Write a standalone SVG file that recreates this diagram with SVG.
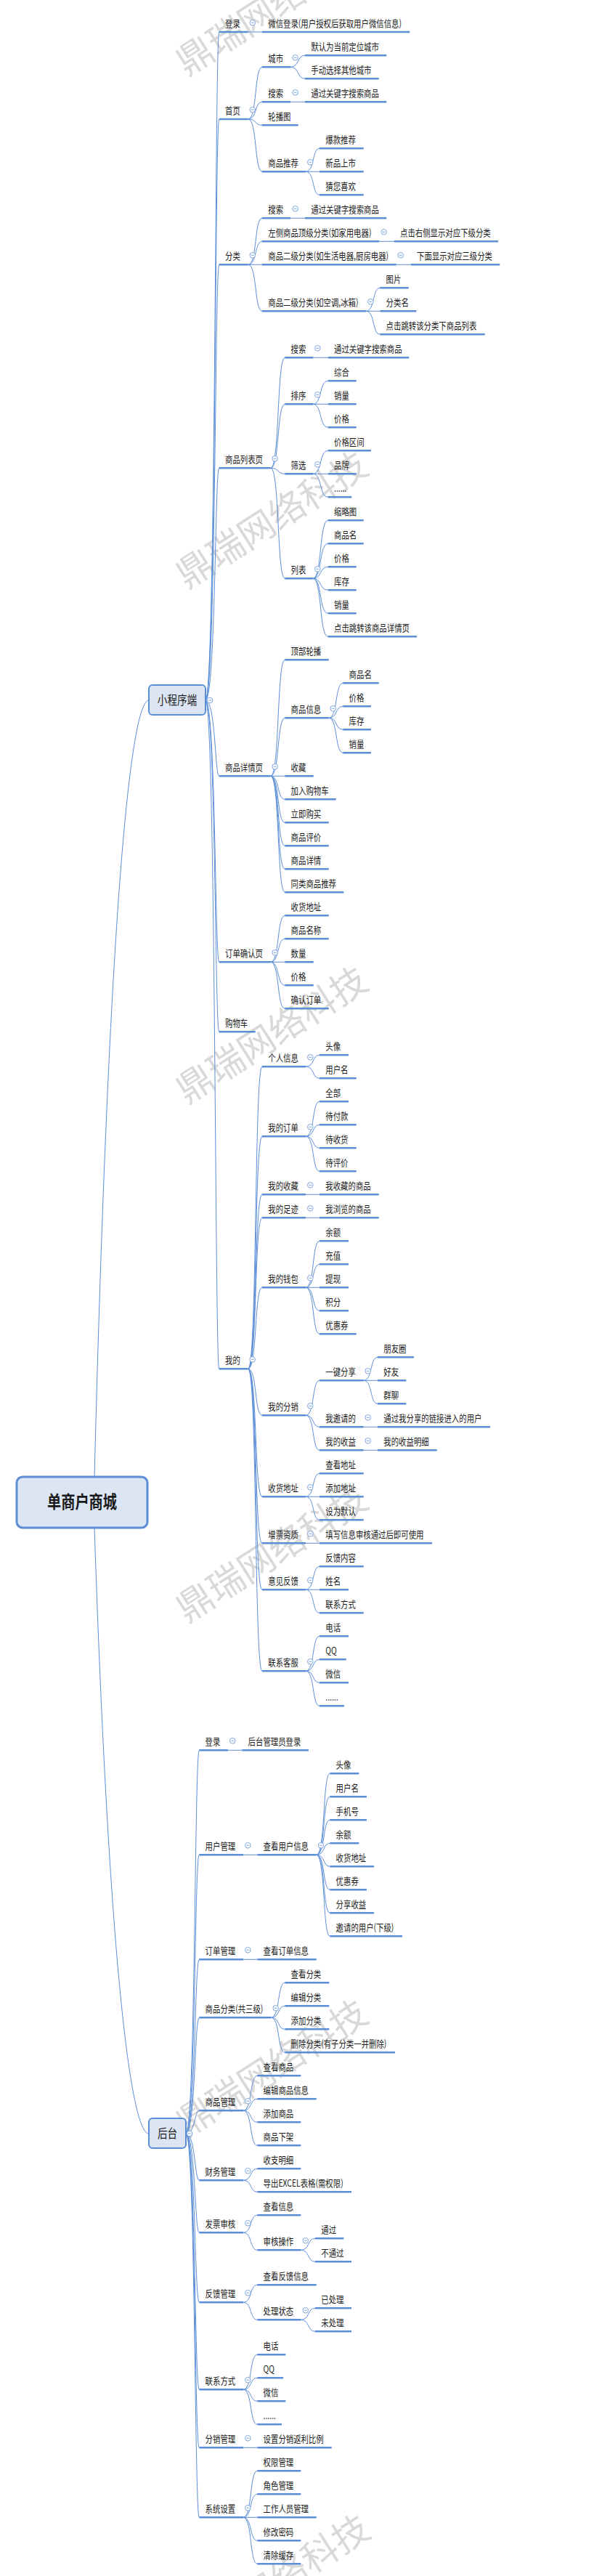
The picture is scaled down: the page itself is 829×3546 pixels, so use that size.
<svg xmlns="http://www.w3.org/2000/svg" xmlns:xlink="http://www.w3.org/1999/xlink" width="829" height="3546" viewBox="0 0 829 3546">
<style>
.u{fill:none;stroke:#5b8ed7;stroke-width:2.6}
.k path{fill:none;stroke:#5b8ed7;stroke-width:1}
.t{font-family:"Noto Sans CJK SC","Noto Sans",sans-serif;font-size:13px;fill:#1a1a1a;transform:scale(.8,1);transform-origin:0 0}
.bx{fill:#dbe5f3;stroke:#5b8ed7;stroke-width:2}
.bt{font-family:"Noto Sans CJK SC","Noto Sans",sans-serif;font-size:17px;fill:#1a1a1a;text-anchor:middle;transform:scale(.8,1);transform-origin:0 0}
.rt{font-family:"Noto Sans CJK SC","Noto Sans",sans-serif;font-size:24px;font-weight:bold;fill:#1a1a1a;text-anchor:middle;transform:scale(.8,1);transform-origin:0 0}
.w{font-family:"Noto Sans CJK SC",sans-serif;font-size:50px;fill:#d9d9d9;text-anchor:middle;dominant-baseline:central}
</style>
<defs>
<g id="cb"><circle r="3.8" fill="#fff" stroke="#7ea5dd" stroke-width="1"/><path d="M-2 0H2" stroke="#7ea5dd" stroke-width="1"/></g>
</defs>
<rect width="829" height="3546" fill="#fff"/>
<g id="watermarks">
<text class="w" transform="translate(372 6) rotate(-32.5)">鼎瑞网络科技</text>
<text class="w" transform="translate(372 712) rotate(-32.5)">鼎瑞网络科技</text>
<text class="w" transform="translate(372 1421) rotate(-32.5)">鼎瑞网络科技</text>
<text class="w" transform="translate(372 2135) rotate(-32.5)">鼎瑞网络科技</text>
<text class="w" transform="translate(372 2843) rotate(-32.5)">鼎瑞网络科技</text>
<text class="w" transform="translate(375 3552) rotate(-32.5)">鼎瑞网络科技</text>
</g>
<g id="connectors" class="k">
<path d="M130 2033C150 1250 180 964 205 964M130 2103C150 2700 180 2937 205 2937"/>
<path d="M283 964C297 964 296 44 301.7 44M283 964C297 964 296 164 301.7 164M283 964C297 964 296 364.3 301.7 364.3M283 964C297 964 296 644.3 301.7 644.3M283 964C297 964 296 1068.3 301.7 1068.3M283 964C297 964 296 1324.3 301.7 1324.3M283 964C297 964 296 1420.3 301.7 1420.3M283 964C297 964 296 1884.3 301.7 1884.3"/>
<path d="M341.7 44H361"/>
<path d="M341.7 164C354.2 164 350.2 92.3 361 92.3M341.7 164C354.2 164 350.2 140.3 361 140.3M341.7 164C354.2 164 350.2 172.3 361 172.3M341.7 164C354.2 164 350.2 236.3 361 236.3"/>
<path d="M400 92.3C412.5 92.3 408.5 76.3 420 76.3M400 92.3C412.5 92.3 408.5 108.3 420 108.3M400 140.3H420"/>
<path d="M421 236.3C433.5 236.3 429.5 204.3 440 204.3M421 236.3H440M421 236.3C433.5 236.3 429.5 268.3 440 268.3"/>
<path d="M341.7 364.3C354.2 364.3 350.2 300.3 361 300.3M341.7 364.3C354.2 364.3 350.2 332.3 361 332.3M341.7 364.3H361M341.7 364.3C354.2 364.3 350.2 428.3 361 428.3"/>
<path d="M400 300.3H420M522.3 332.3H542.7M545.7 364.3H565.7"/>
<path d="M504 428.3C516.5 428.3 512.5 396.3 523.3 396.3M504 428.3H523.3M504 428.3C516.5 428.3 512.5 460.3 523.3 460.3"/>
<path d="M372.7 644.3C385.2 644.3 381.2 492.3 392.3 492.3M372.7 644.3C385.2 644.3 381.2 556.3 392.3 556.3M372.7 644.3C385.2 644.3 381.2 652.3 392.3 652.3M372.7 644.3C385.2 644.3 381.2 796.3 392.3 796.3"/>
<path d="M431 492.3H451.7"/>
<path d="M431 556.3C443.5 556.3 439.5 524.3 451.7 524.3M431 556.3H451.7M431 556.3C443.5 556.3 439.5 588.3 451.7 588.3"/>
<path d="M431 652.3C443.5 652.3 439.5 620.3 451.7 620.3M431 652.3H451.7M431 652.3C443.5 652.3 439.5 684.3 451.7 684.3"/>
<path d="M431 796.3C443.5 796.3 439.5 716.3 451.7 716.3M431 796.3C443.5 796.3 439.5 748.3 451.7 748.3M431 796.3C443.5 796.3 439.5 780.3 451.7 780.3M431 796.3C443.5 796.3 439.5 812.3 451.7 812.3M431 796.3C443.5 796.3 439.5 844.3 451.7 844.3M431 796.3C443.5 796.3 439.5 876.3 451.7 876.3"/>
<path d="M372.7 1068.3C385.2 1068.3 381.2 908.3 392.3 908.3M372.7 1068.3C385.2 1068.3 381.2 988.3 392.3 988.3M372.7 1068.3H392.3M372.7 1068.3C385.2 1068.3 381.2 1100.3 392.3 1100.3M372.7 1068.3C385.2 1068.3 381.2 1132.3 392.3 1132.3M372.7 1068.3C385.2 1068.3 381.2 1164.3 392.3 1164.3M372.7 1068.3C385.2 1068.3 381.2 1196.3 392.3 1196.3M372.7 1068.3C385.2 1068.3 381.2 1228.3 392.3 1228.3"/>
<path d="M452.7 988.3C465.2 988.3 461.2 940.3 472.3 940.3M452.7 988.3C465.2 988.3 461.2 972.3 472.3 972.3M452.7 988.3C465.2 988.3 461.2 1004.3 472.3 1004.3M452.7 988.3C465.2 988.3 461.2 1036.3 472.3 1036.3"/>
<path d="M372.7 1324.3C385.2 1324.3 381.2 1260.3 392.3 1260.3M372.7 1324.3C385.2 1324.3 381.2 1292.3 392.3 1292.3M372.7 1324.3H392.3M372.7 1324.3C385.2 1324.3 381.2 1356.3 392.3 1356.3M372.7 1324.3C385.2 1324.3 381.2 1388.3 392.3 1388.3"/>
<path d="M341.7 1884.3C354.2 1884.3 350.2 1468.3 361 1468.3M341.7 1884.3C354.2 1884.3 350.2 1564.3 361 1564.3M341.7 1884.3C354.2 1884.3 350.2 1644.3 361 1644.3M341.7 1884.3C354.2 1884.3 350.2 1676.3 361 1676.3M341.7 1884.3C354.2 1884.3 350.2 1772.3 361 1772.3M341.7 1884.3C354.2 1884.3 350.2 1948.3 361 1948.3M341.7 1884.3C354.2 1884.3 350.2 2060.3 361 2060.3M341.7 1884.3C354.2 1884.3 350.2 2124.3 361 2124.3M341.7 1884.3C354.2 1884.3 350.2 2188.3 361 2188.3M341.7 1884.3C354.2 1884.3 350.2 2300.3 361 2300.3"/>
<path d="M421 1468.3C433.5 1468.3 429.5 1452.3 440 1452.3M421 1468.3C433.5 1468.3 429.5 1484.3 440 1484.3"/>
<path d="M421 1564.3C433.5 1564.3 429.5 1516.3 440 1516.3M421 1564.3C433.5 1564.3 429.5 1548.3 440 1548.3M421 1564.3C433.5 1564.3 429.5 1580.3 440 1580.3M421 1564.3C433.5 1564.3 429.5 1612.3 440 1612.3"/>
<path d="M421 1644.3H440M421 1676.3H440"/>
<path d="M421 1772.3C433.5 1772.3 429.5 1708.3 440 1708.3M421 1772.3C433.5 1772.3 429.5 1740.3 440 1740.3M421 1772.3H440M421 1772.3C433.5 1772.3 429.5 1804.3 440 1804.3M421 1772.3C433.5 1772.3 429.5 1836.3 440 1836.3"/>
<path d="M421 1948.3C433.5 1948.3 429.5 1900.3 440 1900.3M421 1948.3C433.5 1948.3 429.5 1964.3 440 1964.3M421 1948.3C433.5 1948.3 429.5 1996.3 440 1996.3"/>
<path d="M500.7 1900.3C513.2 1900.3 509.2 1868.3 520 1868.3M500.7 1900.3H520M500.7 1900.3C513.2 1900.3 509.2 1932.3 520 1932.3M500.7 1964.3H520M500.7 1996.3H520"/>
<path d="M421 2060.3C433.5 2060.3 429.5 2028.3 440 2028.3M421 2060.3H440M421 2060.3C433.5 2060.3 429.5 2092.3 440 2092.3M421 2124.3H440"/>
<path d="M421 2188.3C433.5 2188.3 429.5 2156.3 440 2156.3M421 2188.3H440M421 2188.3C433.5 2188.3 429.5 2220.3 440 2220.3"/>
<path d="M421 2300.3C433.5 2300.3 429.5 2252.3 440 2252.3M421 2300.3C433.5 2300.3 429.5 2284.3 440 2284.3M421 2300.3C433.5 2300.3 429.5 2316.3 440 2316.3M421 2300.3C433.5 2300.3 429.5 2348.3 440 2348.3"/>
<path d="M256 2937C269 2937 268 2409.3 274.3 2409.3M256 2937C269 2937 268 2553.3 274.3 2553.3M256 2937C269 2937 268 2697.3 274.3 2697.3M256 2937C269 2937 268 2777.3 274.3 2777.3M256 2937C269 2937 268 2905.3 274.3 2905.3M256 2937C269 2937 268 3001.3 274.3 3001.3M256 2937C269 2937 268 3073.3 274.3 3073.3M256 2937C269 2937 268 3169.3 274.3 3169.3M256 2937C269 2937 268 3289.3 274.3 3289.3M256 2937C269 2937 268 3369.3 274.3 3369.3M256 2937C269 2937 268 3465.3 274.3 3465.3"/>
<path d="M314 2409.3H333.3M335 2553.3H354.3M335 2697.3H354.3M335 3369.3H354.3"/>
<path d="M435.7 2553.3C448.2 2553.3 444.2 2441.3 454.3 2441.3M435.7 2553.3C448.2 2553.3 444.2 2473.3 454.3 2473.3M435.7 2553.3C448.2 2553.3 444.2 2505.3 454.3 2505.3M435.7 2553.3C448.2 2553.3 444.2 2537.3 454.3 2537.3M435.7 2553.3C448.2 2553.3 444.2 2569.3 454.3 2569.3M435.7 2553.3C448.2 2553.3 444.2 2601.3 454.3 2601.3M435.7 2553.3C448.2 2553.3 444.2 2633.3 454.3 2633.3M435.7 2553.3C448.2 2553.3 444.2 2665.3 454.3 2665.3"/>
<path d="M373.3 2777.3C385.8 2777.3 381.8 2729.3 392.3 2729.3M373.3 2777.3C385.8 2777.3 381.8 2761.3 392.3 2761.3M373.3 2777.3C385.8 2777.3 381.8 2793.3 392.3 2793.3M373.3 2777.3C385.8 2777.3 381.8 2825.3 392.3 2825.3"/>
<path d="M335 2905.3C347.5 2905.3 343.5 2857.3 354.3 2857.3M335 2905.3C347.5 2905.3 343.5 2889.3 354.3 2889.3M335 2905.3C347.5 2905.3 343.5 2921.3 354.3 2921.3M335 2905.3C347.5 2905.3 343.5 2953.3 354.3 2953.3"/>
<path d="M335 3001.3C347.5 3001.3 343.5 2985.3 354.3 2985.3M335 3001.3C347.5 3001.3 343.5 3017.3 354.3 3017.3"/>
<path d="M335 3073.3C347.5 3073.3 343.5 3049.3 354.3 3049.3M335 3073.3C347.5 3073.3 343.5 3097.3 354.3 3097.3M414.3 3097.3C426.8 3097.3 422.8 3081.3 434 3081.3M414.3 3097.3C426.8 3097.3 422.8 3113.3 434 3113.3"/>
<path d="M335 3169.3C347.5 3169.3 343.5 3145.3 354.3 3145.3M335 3169.3C347.5 3169.3 343.5 3193.3 354.3 3193.3M414.3 3193.3C426.8 3193.3 422.8 3177.3 434 3177.3M414.3 3193.3C426.8 3193.3 422.8 3209.3 434 3209.3"/>
<path d="M335 3289.3C347.5 3289.3 343.5 3241.3 354.3 3241.3M335 3289.3C347.5 3289.3 343.5 3273.3 354.3 3273.3M335 3289.3C347.5 3289.3 343.5 3305.3 354.3 3305.3M335 3289.3C347.5 3289.3 343.5 3337.3 354.3 3337.3"/>
<path d="M335 3465.3C347.5 3465.3 343.5 3401.3 354.3 3401.3M335 3465.3C347.5 3465.3 343.5 3433.3 354.3 3433.3M335 3465.3H354.3M335 3465.3C347.5 3465.3 343.5 3497.3 354.3 3497.3M335 3465.3C347.5 3465.3 343.5 3529.3 354.3 3529.3"/>
</g>
<g id="root"><rect x="23" y="2033" width="180" height="70" rx="8" fill="#dbe5f3" stroke="#5b8ed7" stroke-width="3"/><text class="rt" x="141.25" y="2076">单商户商城</text></g>
<g id="mini"><rect class="bx" x="205" y="943" width="78" height="41" rx="5"/><text class="bt" x="305" y="970">小程序端</text><use href="#cb" x="289" y="964"/></g>
<g id="admin"><rect class="bx" x="205" y="2916" width="51" height="41" rx="5"/><text class="bt" x="288.1" y="2943">后台</text><use href="#cb" x="261" y="2937"/></g>

<g id="a1"><path class="u" d="M301.7 44H341.7"/><text class="t" x="387.5" y="37">登录</text><use href="#cb" x="347.7" y="31.3"/></g>
<g id="a1-1"><path class="u" d="M361 44H564.3"/><text class="t" x="461.6" y="37">微信登录(用户授权后获取用户微信信息)</text></g>
<g id="a2"><path class="u" d="M301.7 164H341.7"/><text class="t" x="387.5" y="157">首页</text><use href="#cb" x="347.7" y="151"/></g>
<g id="a2-1"><path class="u" d="M361 92.3H400"/><text class="t" x="461.6" y="85.3">城市</text><use href="#cb" x="406.7" y="79.3"/></g>
<g id="a2-1-1"><path class="u" d="M420 76.3H532.3"/><text class="t" x="535.4" y="69.3">默认为当前定位城市</text></g>
<g id="a2-1-2"><path class="u" d="M420 108.3H521.7"/><text class="t" x="535.4" y="101.3">手动选择其他城市</text></g>
<g id="a2-2"><path class="u" d="M361 140.3H400"/><text class="t" x="461.6" y="133.3">搜索</text><use href="#cb" x="406.7" y="127.3"/></g>
<g id="a2-2-1"><path class="u" d="M420 140.3H532.3"/><text class="t" x="535.4" y="133.3">通过关键字搜索商品</text></g>
<g id="a2-3"><path class="u" d="M361 172.3H410.7"/><text class="t" x="461.6" y="165.3">轮播图</text></g>
<g id="a2-4"><path class="u" d="M361 236.3H421"/><text class="t" x="461.6" y="229.3">商品推荐</text><use href="#cb" x="427.3" y="223.3"/></g>
<g id="a2-4-1"><path class="u" d="M440 204.3H500.7"/><text class="t" x="560.4" y="197.3">爆款推荐</text></g>
<g id="a2-4-2"><path class="u" d="M440 236.3H500.7"/><text class="t" x="560.4" y="229.3">新品上市</text></g>
<g id="a2-4-3"><path class="u" d="M440 268.3H500.7"/><text class="t" x="560.4" y="261.3">猜您喜欢</text></g>

<g id="a3"><path class="u" d="M301.7 364.3H341.7"/><text class="t" x="387.5" y="357.3">分类</text><use href="#cb" x="347.7" y="351.3"/></g>
<g id="a3-1"><path class="u" d="M361 300.3H400"/><text class="t" x="461.6" y="293.3">搜索</text><use href="#cb" x="406.7" y="287.3"/></g>
<g id="a3-1-1"><path class="u" d="M420 300.3H532.3"/><text class="t" x="535.4" y="293.3">通过关键字搜索商品</text></g>
<g id="a3-2"><path class="u" d="M361 332.3H522.3"/><text class="t" x="461.6" y="325.3">左侧商品顶级分类(如家用电器)</text><use href="#cb" x="528.7" y="319.3"/></g>
<g id="a3-2-1"><path class="u" d="M542.7 332.3H686"/><text class="t" x="688.75" y="325.3">点击右侧显示对应下级分类</text></g>
<g id="a3-3"><path class="u" d="M361 364.3H545.7"/><text class="t" x="461.6" y="357.3">商品二级分类(如生活电器,厨房电器)</text><use href="#cb" x="551.7" y="351.3"/></g>
<g id="a3-3-1"><path class="u" d="M565.7 364.3H688.3"/><text class="t" x="717.5" y="357.3">下面显示对应三级分类</text></g>
<g id="a3-4"><path class="u" d="M361 428.3H504"/><text class="t" x="461.6" y="421.3">商品二级分类(如空调,冰箱)</text><use href="#cb" x="510.3" y="415.3"/></g>
<g id="a3-4-1"><path class="u" d="M523.3 396.3H562.7"/><text class="t" x="664.5" y="389.3">图片</text></g>
<g id="a3-4-2"><path class="u" d="M523.3 428.3H573.3"/><text class="t" x="664.5" y="421.3">分类名</text></g>
<g id="a3-4-3"><path class="u" d="M523.3 460.3H667.7"/><text class="t" x="664.5" y="453.3">点击跳转该分类下商品列表</text></g>

<g id="a4"><path class="u" d="M301.7 644.3H372.7"/><text class="t" x="387.5" y="637.3">商品列表页</text><use href="#cb" x="378.7" y="631.3"/></g>
<g id="a4-1"><path class="u" d="M392.3 492.3H431"/><text class="t" x="500.75" y="485.3">搜索</text><use href="#cb" x="437.3" y="479.3"/></g>
<g id="a4-1-1"><path class="u" d="M451.7 492.3H563.3"/><text class="t" x="575" y="485.3">通过关键字搜索商品</text></g>
<g id="a4-2"><path class="u" d="M392.3 556.3H431"/><text class="t" x="500.75" y="549.3">排序</text><use href="#cb" x="437.3" y="543.3"/></g>
<g id="a4-2-1"><path class="u" d="M451.7 524.3H490.7"/><text class="t" x="575" y="517.3">综合</text></g>
<g id="a4-2-2"><path class="u" d="M451.7 556.3H490.7"/><text class="t" x="575" y="549.3">销量</text></g>
<g id="a4-2-3"><path class="u" d="M451.7 588.3H490.7"/><text class="t" x="575" y="581.3">价格</text></g>
<g id="a4-3"><path class="u" d="M392.3 652.3H431"/><text class="t" x="500.75" y="645.3">筛选</text><use href="#cb" x="437.3" y="639.3"/></g>
<g id="a4-3-1"><path class="u" d="M451.7 620.3H511"/><text class="t" x="575" y="613.3">价格区间</text></g>
<g id="a4-3-2"><path class="u" d="M451.7 652.3H490.7"/><text class="t" x="575" y="645.3">品牌</text></g>
<g id="a4-3-3"><path class="u" d="M451.7 684.3H484.3"/><text class="t" x="575" y="677.3">......</text></g>
<g id="a4-4"><path class="u" d="M392.3 796.3H431"/><text class="t" x="500.75" y="789.3">列表</text><use href="#cb" x="437.3" y="783.3"/></g>
<g id="a4-4-1"><path class="u" d="M451.7 716.3H500.7"/><text class="t" x="575" y="709.3">缩略图</text></g>
<g id="a4-4-2"><path class="u" d="M451.7 748.3H500.7"/><text class="t" x="575" y="741.3">商品名</text></g>
<g id="a4-4-3"><path class="u" d="M451.7 780.3H490.7"/><text class="t" x="575" y="773.3">价格</text></g>
<g id="a4-4-4"><path class="u" d="M451.7 812.3H490.7"/><text class="t" x="575" y="805.3">库存</text></g>
<g id="a4-4-5"><path class="u" d="M451.7 844.3H490.7"/><text class="t" x="575" y="837.3">销量</text></g>
<g id="a4-4-6"><path class="u" d="M451.7 876.3H574"/><text class="t" x="575" y="869.3">点击跳转该商品详情页</text></g>

<g id="a5"><path class="u" d="M301.7 1068.3H372.7"/><text class="t" x="387.5" y="1061.3">商品详情页</text><use href="#cb" x="378.7" y="1055.3"/></g>
<g id="a5-1"><path class="u" d="M392.3 908.3H452.7"/><text class="t" x="500.75" y="901.3">顶部轮播</text></g>
<g id="a5-2"><path class="u" d="M392.3 988.3H452.7"/><text class="t" x="500.75" y="981.3">商品信息</text><use href="#cb" x="458.7" y="975.3"/></g>
<g id="a5-2-1"><path class="u" d="M472.3 940.3H521.7"/><text class="t" x="600.75" y="933.3">商品名</text></g>
<g id="a5-2-2"><path class="u" d="M472.3 972.3H511"/><text class="t" x="600.75" y="965.3">价格</text></g>
<g id="a5-2-3"><path class="u" d="M472.3 1004.3H511"/><text class="t" x="600.75" y="997.3">库存</text></g>
<g id="a5-2-4"><path class="u" d="M472.3 1036.3H511"/><text class="t" x="600.75" y="1029.3">销量</text></g>
<g id="a5-3"><path class="u" d="M392.3 1068.3H431.7"/><text class="t" x="500.75" y="1061.3">收藏</text></g>
<g id="a5-4"><path class="u" d="M392.3 1100.3H462.7"/><text class="t" x="500.75" y="1093.3">加入购物车</text></g>
<g id="a5-5"><path class="u" d="M392.3 1132.3H452.7"/><text class="t" x="500.75" y="1125.3">立即购买</text></g>
<g id="a5-6"><path class="u" d="M392.3 1164.3H452.7"/><text class="t" x="500.75" y="1157.3">商品评价</text></g>
<g id="a5-7"><path class="u" d="M392.3 1196.3H452.7"/><text class="t" x="500.75" y="1189.3">商品详情</text></g>
<g id="a5-8"><path class="u" d="M392.3 1228.3H473.3"/><text class="t" x="500.75" y="1221.3">同类商品推荐</text></g>

<g id="a6"><path class="u" d="M301.7 1324.3H372.7"/><text class="t" x="387.5" y="1317.3">订单确认页</text><use href="#cb" x="378.7" y="1311.3"/></g>
<g id="a6-1"><path class="u" d="M392.3 1260.3H452.7"/><text class="t" x="500.75" y="1253.3">收货地址</text></g>
<g id="a6-2"><path class="u" d="M392.3 1292.3H452.7"/><text class="t" x="500.75" y="1285.3">商品名称</text></g>
<g id="a6-3"><path class="u" d="M392.3 1324.3H431.7"/><text class="t" x="500.75" y="1317.3">数量</text></g>
<g id="a6-4"><path class="u" d="M392.3 1356.3H431.7"/><text class="t" x="500.75" y="1349.3">价格</text></g>
<g id="a6-5"><path class="u" d="M392.3 1388.3H452.7"/><text class="t" x="500.75" y="1381.3">确认订单</text></g>
<g id="a7"><path class="u" d="M301.7 1420.3H351.7"/><text class="t" x="387.5" y="1413.3">购物车</text></g>

<g id="a8"><path class="u" d="M301.7 1884.3H341.7"/><text class="t" x="387.5" y="1877.3">我的</text><use href="#cb" x="347.7" y="1871.3"/></g>
<g id="a8-1"><path class="u" d="M361 1468.3H421"/><text class="t" x="461.6" y="1461.3">个人信息</text><use href="#cb" x="427.3" y="1455.3"/></g>
<g id="a8-1-1"><path class="u" d="M440 1452.3H480"/><text class="t" x="560.4" y="1445.3">头像</text></g>
<g id="a8-1-2"><path class="u" d="M440 1484.3H490.7"/><text class="t" x="560.4" y="1477.3">用户名</text></g>
<g id="a8-2"><path class="u" d="M361 1564.3H421"/><text class="t" x="461.6" y="1557.3">我的订单</text><use href="#cb" x="427.3" y="1551.3"/></g>
<g id="a8-2-1"><path class="u" d="M440 1516.3H480"/><text class="t" x="560.4" y="1509.3">全部</text></g>
<g id="a8-2-2"><path class="u" d="M440 1548.3H490.7"/><text class="t" x="560.4" y="1541.3">待付款</text></g>
<g id="a8-2-3"><path class="u" d="M440 1580.3H490.7"/><text class="t" x="560.4" y="1573.3">待收货</text></g>
<g id="a8-2-4"><path class="u" d="M440 1612.3H490.7"/><text class="t" x="560.4" y="1605.3">待评价</text></g>
<g id="a8-3"><path class="u" d="M361 1644.3H421"/><text class="t" x="461.6" y="1637.3">我的收藏</text><use href="#cb" x="427.3" y="1631.3"/></g>
<g id="a8-3-1"><path class="u" d="M440 1644.3H521.7"/><text class="t" x="560.4" y="1637.3">我收藏的商品</text></g>
<g id="a8-4"><path class="u" d="M361 1676.3H421"/><text class="t" x="461.6" y="1669.3">我的足迹</text><use href="#cb" x="427.3" y="1663.3"/></g>
<g id="a8-4-1"><path class="u" d="M440 1676.3H521.7"/><text class="t" x="560.4" y="1669.3">我浏览的商品</text></g>
<g id="a8-5"><path class="u" d="M361 1772.3H421"/><text class="t" x="461.6" y="1765.3">我的钱包</text><use href="#cb" x="427.3" y="1759.3"/></g>
<g id="a8-5-1"><path class="u" d="M440 1708.3H480"/><text class="t" x="560.4" y="1701.3">余额</text></g>
<g id="a8-5-2"><path class="u" d="M440 1740.3H480"/><text class="t" x="560.4" y="1733.3">充值</text></g>
<g id="a8-5-3"><path class="u" d="M440 1772.3H480"/><text class="t" x="560.4" y="1765.3">提现</text></g>
<g id="a8-5-4"><path class="u" d="M440 1804.3H480"/><text class="t" x="560.4" y="1797.3">积分</text></g>
<g id="a8-5-5"><path class="u" d="M440 1836.3H490.7"/><text class="t" x="560.4" y="1829.3">优惠券</text></g>
<g id="a8-6"><path class="u" d="M361 1948.3H421"/><text class="t" x="461.6" y="1941.3">我的分销</text><use href="#cb" x="427.3" y="1935.3"/></g>
<g id="a8-6-1"><path class="u" d="M440 1900.3H500.7"/><text class="t" x="560.4" y="1893.3">一键分享</text><use href="#cb" x="506.7" y="1887.3"/></g>
<g id="a8-6-1-1"><path class="u" d="M520 1868.3H570"/><text class="t" x="660.4" y="1861.3">朋友圈</text></g>
<g id="a8-6-1-2"><path class="u" d="M520 1900.3H559.3"/><text class="t" x="660.4" y="1893.3">好友</text></g>
<g id="a8-6-1-3"><path class="u" d="M520 1932.3H559.3"/><text class="t" x="660.4" y="1925.3">群聊</text></g>
<g id="a8-6-2"><path class="u" d="M440 1964.3H500.7"/><text class="t" x="560.4" y="1957.3">我邀请的</text><use href="#cb" x="506.7" y="1951.3"/></g>
<g id="a8-6-2-1"><path class="u" d="M520 1964.3H675"/><text class="t" x="660.4" y="1957.3">通过我分享的链接进入的用户</text></g>
<g id="a8-6-3"><path class="u" d="M440 1996.3H500.7"/><text class="t" x="560.4" y="1989.3">我的收益</text><use href="#cb" x="506.7" y="1983.3"/></g>
<g id="a8-6-3-1"><path class="u" d="M520 1996.3H601.7"/><text class="t" x="660.4" y="1989.3">我的收益明细</text></g>
<g id="a8-7"><path class="u" d="M361 2060.3H421"/><text class="t" x="461.6" y="2053.3">收货地址</text><use href="#cb" x="427.3" y="2047.3"/></g>
<g id="a8-7-1"><path class="u" d="M440 2028.3H500.7"/><text class="t" x="560.4" y="2021.3">查看地址</text></g>
<g id="a8-7-2"><path class="u" d="M440 2060.3H500.7"/><text class="t" x="560.4" y="2053.3">添加地址</text></g>
<g id="a8-7-3"><path class="u" d="M440 2092.3H500.7"/><text class="t" x="560.4" y="2085.3">设为默认</text></g>
<g id="a8-8"><path class="u" d="M361 2124.3H421"/><text class="t" x="461.6" y="2117.3">增票资质</text><use href="#cb" x="427.3" y="2111.3"/></g>
<g id="a8-8-1"><path class="u" d="M440 2124.3H595"/><text class="t" x="560.4" y="2117.3">填写信息审核通过后即可使用</text></g>
<g id="a8-9"><path class="u" d="M361 2188.3H421"/><text class="t" x="461.6" y="2181.3">意见反馈</text><use href="#cb" x="427.3" y="2175.3"/></g>
<g id="a8-9-1"><path class="u" d="M440 2156.3H500.7"/><text class="t" x="560.4" y="2149.3">反馈内容</text></g>
<g id="a8-9-2"><path class="u" d="M440 2188.3H480"/><text class="t" x="560.4" y="2181.3">姓名</text></g>
<g id="a8-9-3"><path class="u" d="M440 2220.3H500.7"/><text class="t" x="560.4" y="2213.3">联系方式</text></g>
<g id="a8-10"><path class="u" d="M361 2300.3H421"/><text class="t" x="461.6" y="2293.3">联系客服</text><use href="#cb" x="427.3" y="2287.3"/></g>
<g id="a8-10-1"><path class="u" d="M440 2252.3H480"/><text class="t" x="560.4" y="2245.3">电话</text></g>
<g id="a8-10-2"><path class="u" d="M440 2284.3H476.7"/><text class="t" x="560.4" y="2277.3">QQ</text></g>
<g id="a8-10-3"><path class="u" d="M440 2316.3H480"/><text class="t" x="560.4" y="2309.3">微信</text></g>
<g id="a8-10-4"><path class="u" d="M440 2348.3H474"/><text class="t" x="560.4" y="2341.3">......</text></g>

<g id="b1"><path class="u" d="M274.3 2409.3H314"/><text class="t" x="353.25" y="2402.3">登录</text><use href="#cb" x="320.3" y="2396.3"/></g>
<g id="b1-1"><path class="u" d="M333.3 2409.3H425"/><text class="t" x="427" y="2402.3">后台管理员登录</text></g>
<g id="b2"><path class="u" d="M274.3 2553.3H335"/><text class="t" x="353.25" y="2546.3">用户管理</text><use href="#cb" x="341.3" y="2540.3"/></g>
<g id="b2-1"><path class="u" d="M354.3 2553.3H435.7"/><text class="t" x="453.25" y="2546.3">查看用户信息</text><use href="#cb" x="442" y="2540.3"/></g>
<g id="b2-1-1"><path class="u" d="M454.3 2441.3H494.3"/><text class="t" x="578.25" y="2434.3">头像</text></g>
<g id="b2-1-2"><path class="u" d="M454.3 2473.3H505"/><text class="t" x="578.25" y="2466.3">用户名</text></g>
<g id="b2-1-3"><path class="u" d="M454.3 2505.3H505"/><text class="t" x="578.25" y="2498.3">手机号</text></g>
<g id="b2-1-4"><path class="u" d="M454.3 2537.3H494.3"/><text class="t" x="578.25" y="2530.3">余额</text></g>
<g id="b2-1-5"><path class="u" d="M454.3 2569.3H515"/><text class="t" x="578.25" y="2562.3">收货地址</text></g>
<g id="b2-1-6"><path class="u" d="M454.3 2601.3H505"/><text class="t" x="578.25" y="2594.3">优惠券</text></g>
<g id="b2-1-7"><path class="u" d="M454.3 2633.3H515"/><text class="t" x="578.25" y="2626.3">分享收益</text></g>
<g id="b2-1-8"><path class="u" d="M454.3 2665.3H554"/><text class="t" x="578.25" y="2658.3">邀请的用户(下级)</text></g>
<g id="b3"><path class="u" d="M274.3 2697.3H335"/><text class="t" x="353.25" y="2690.3">订单管理</text><use href="#cb" x="341.3" y="2684.3"/></g>
<g id="b3-1"><path class="u" d="M354.3 2697.3H435.7"/><text class="t" x="453.25" y="2690.3">查看订单信息</text></g>
<g id="b4"><path class="u" d="M274.3 2777.3H373.3"/><text class="t" x="353.25" y="2770.3">商品分类(共三级)</text><use href="#cb" x="379.7" y="2764.3"/></g>
<g id="b4-1"><path class="u" d="M392.3 2729.3H453.3"/><text class="t" x="500.75" y="2722.3">查看分类</text></g>
<g id="b4-2"><path class="u" d="M392.3 2761.3H453.3"/><text class="t" x="500.75" y="2754.3">编辑分类</text></g>
<g id="b4-3"><path class="u" d="M392.3 2793.3H453.3"/><text class="t" x="500.75" y="2786.3">添加分类</text></g>
<g id="b4-4"><path class="u" d="M392.3 2825.3H544"/><text class="t" x="500.75" y="2818.3">删除分类(有子分类一并删除)</text></g>
<g id="b5"><path class="u" d="M274.3 2905.3H335"/><text class="t" x="353.25" y="2898.3">商品管理</text><use href="#cb" x="341.3" y="2892.3"/></g>
<g id="b5-1"><path class="u" d="M354.3 2857.3H414.3"/><text class="t" x="453.25" y="2850.3">查看商品</text></g>
<g id="b5-2"><path class="u" d="M354.3 2889.3H435.7"/><text class="t" x="453.25" y="2882.3">编辑商品信息</text></g>
<g id="b5-3"><path class="u" d="M354.3 2921.3H414.3"/><text class="t" x="453.25" y="2914.3">添加商品</text></g>
<g id="b5-4"><path class="u" d="M354.3 2953.3H414.3"/><text class="t" x="453.25" y="2946.3">商品下架</text></g>
<g id="b6"><path class="u" d="M274.3 3001.3H335"/><text class="t" x="353.25" y="2994.3">财务管理</text><use href="#cb" x="341.3" y="2988.3"/></g>
<g id="b6-1"><path class="u" d="M354.3 2985.3H414.3"/><text class="t" x="453.25" y="2978.3">收支明细</text></g>
<g id="b6-2"><path class="u" d="M354.3 3017.3H484"/><text class="t" x="453.25" y="3010.3">导出EXCEL表格(需权限)</text></g>
<g id="b7"><path class="u" d="M274.3 3073.3H335"/><text class="t" x="353.25" y="3066.3">发票审核</text><use href="#cb" x="341.3" y="3060.3"/></g>
<g id="b7-1"><path class="u" d="M354.3 3049.3H414.3"/><text class="t" x="453.25" y="3042.3">查看信息</text></g>
<g id="b7-2"><path class="u" d="M354.3 3097.3H414.3"/><text class="t" x="453.25" y="3090.3">审核操作</text><use href="#cb" x="420.7" y="3084.3"/></g>
<g id="b7-2-1"><path class="u" d="M434 3081.3H473.3"/><text class="t" x="552.9" y="3074.3">通过</text></g>
<g id="b7-2-2"><path class="u" d="M434 3113.3H484"/><text class="t" x="552.9" y="3106.3">不通过</text></g>
<g id="b8"><path class="u" d="M274.3 3169.3H335"/><text class="t" x="353.25" y="3162.3">反馈管理</text><use href="#cb" x="341.3" y="3156.3"/></g>
<g id="b8-1"><path class="u" d="M354.3 3145.3H435.7"/><text class="t" x="453.25" y="3138.3">查看反馈信息</text></g>
<g id="b8-2"><path class="u" d="M354.3 3193.3H414.3"/><text class="t" x="453.25" y="3186.3">处理状态</text><use href="#cb" x="420.7" y="3180.3"/></g>
<g id="b8-2-1"><path class="u" d="M434 3177.3H484"/><text class="t" x="552.9" y="3170.3">已处理</text></g>
<g id="b8-2-2"><path class="u" d="M434 3209.3H484"/><text class="t" x="552.9" y="3202.3">未处理</text></g>
<g id="b9"><path class="u" d="M274.3 3289.3H335"/><text class="t" x="353.25" y="3282.3">联系方式</text><use href="#cb" x="341.3" y="3276.3"/></g>
<g id="b9-1"><path class="u" d="M354.3 3241.3H393.3"/><text class="t" x="453.25" y="3234.3">电话</text></g>
<g id="b9-2"><path class="u" d="M354.3 3273.3H390"/><text class="t" x="453.25" y="3266.3">QQ</text></g>
<g id="b9-3"><path class="u" d="M354.3 3305.3H393.3"/><text class="t" x="453.25" y="3298.3">微信</text></g>
<g id="b9-4"><path class="u" d="M354.3 3337.3H388"/><text class="t" x="453.25" y="3330.3">......</text></g>
<g id="b10"><path class="u" d="M274.3 3369.3H335"/><text class="t" x="353.25" y="3362.3">分销管理</text><use href="#cb" x="341.3" y="3356.3"/></g>
<g id="b10-1"><path class="u" d="M354.3 3369.3H456.7"/><text class="t" x="453.25" y="3362.3">设置分销返利比例</text></g>
<g id="b11"><path class="u" d="M274.3 3465.3H335"/><text class="t" x="353.25" y="3458.3">系统设置</text><use href="#cb" x="341.3" y="3452.3"/></g>
<g id="b11-1"><path class="u" d="M354.3 3401.3H414.3"/><text class="t" x="453.25" y="3394.3">权限管理</text></g>
<g id="b11-2"><path class="u" d="M354.3 3433.3H414.3"/><text class="t" x="453.25" y="3426.3">角色管理</text></g>
<g id="b11-3"><path class="u" d="M354.3 3465.3H435.7"/><text class="t" x="453.25" y="3458.3">工作人员管理</text></g>
<g id="b11-4"><path class="u" d="M354.3 3497.3H414.3"/><text class="t" x="453.25" y="3490.3">修改密码</text></g>
<g id="b11-5"><path class="u" d="M354.3 3529.3H414.3"/><text class="t" x="453.25" y="3522.3">清除缓存</text></g>
</svg>
